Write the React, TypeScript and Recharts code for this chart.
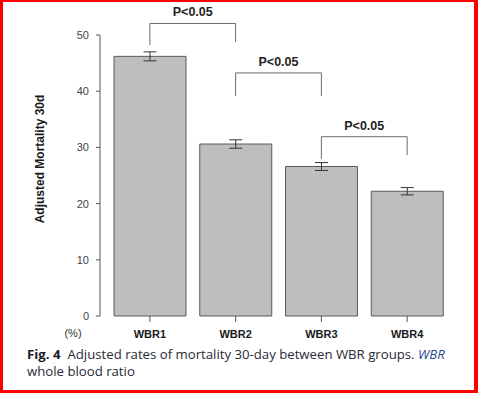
import React from 'react';
import { BarChart, Bar, XAxis, YAxis, ErrorBar, ReferenceLine } from 'recharts';

const categories = ['WBR1', 'WBR2', 'WBR3', 'WBR4'];
const mortality = [46.2, 30.6, 26.6, 22.2];
const errors = [0.8, 0.75, 0.7, 0.65];
const yTicks = [0, 10, 20, 30, 40, 50];

const bracketFrom = ['WBR1', 'WBR2', 'WBR3'];
const bracketTo = ['WBR2', 'WBR3', 'WBR4'];
const bracketTop = [52.05, 43.25, 31.9];
const bracketLeftEnd = [48.2, 39.15, 27.95];
const bracketRightEnd = [48.75, 39.15, 28.65];
const bracketLabels = ['P<0.05', 'P<0.05', 'P<0.05'];

const data = categories.map((c, i) => ({ name: c, value: mortality[i], err: errors[i] }));

const AXIS_FONT = 'Liberation Sans, Arial, sans-serif';
const CAPTION_FONT = 'Open Sans, sans-serif';

export default function App() {
  const brackets: React.ReactNode[] = [];
  bracketFrom.forEach((from, i) => {
    const to = bracketTo[i];
    brackets.push(
      <ReferenceLine
        key={`h${i}`}
        segment={[{ x: from, y: bracketTop[i] }, { x: to, y: bracketTop[i] }]}
        stroke="#6a6a6a"
        strokeWidth={1}
        ifOverflow="visible"
        label={{
          value: bracketLabels[i],
          position: 'top',
          offset: 7,
          fontSize: 12.5,
          fontWeight: 'bold',
          fill: '#222',
          fontFamily: AXIS_FONT,
        }}
      />
    );
    brackets.push(
      <ReferenceLine
        key={`l${i}`}
        segment={[{ x: from, y: bracketTop[i] }, { x: from, y: bracketLeftEnd[i] }]}
        stroke="#6a6a6a"
        strokeWidth={1}
        ifOverflow="visible"
      />
    );
    brackets.push(
      <ReferenceLine
        key={`r${i}`}
        segment={[{ x: to, y: bracketTop[i] }, { x: to, y: bracketRightEnd[i] }]}
        stroke="#6a6a6a"
        strokeWidth={1}
        ifOverflow="visible"
      />
    );
  });

  return (
    <div style={{ position: 'absolute', left: 0, top: 0, width: 478, height: 393, background: '#fff' }}>
      <BarChart
        width={478}
        height={393}
        data={data}
        margin={{ top: 35, right: 28, bottom: 47, left: 0 }}
      >
        <XAxis
          dataKey="name"
          axisLine={false}
          tickLine={{ stroke: '#555' }}
          tickSize={6}
          tickMargin={8}
          height={30}
          padding={{ left: 7, right: 0 }}
          tick={{ fontSize: 11, fontWeight: 'bold', fill: '#1a1a1a', fontFamily: AXIS_FONT }}
        />
        <YAxis
          width={100}
          domain={[0, 50]}
          ticks={yTicks}
          axisLine={{ stroke: '#555' }}
          tickLine={{ stroke: '#555' }}
          tickSize={4}
          tickMargin={7}
          tick={{ fontSize: 11, fill: '#444', fontFamily: AXIS_FONT }}
        />
        <Bar dataKey="value" fill="#bebebe" stroke="#5a5a5a" strokeWidth={1} barSize={72} isAnimationActive={false}>
          <ErrorBar dataKey="err" width={6.5} stroke="#333" strokeWidth={1} direction="y" />
        </Bar>
        {brackets}
      </BarChart>
      <svg
        width={478}
        height={393}
        style={{ position: 'absolute', left: 0, top: 0, pointerEvents: 'none' }}
      >
        <text
          x={44}
          y={159}
          transform="rotate(-90 44 159)"
          textAnchor="middle"
          fontSize={12}
          fontWeight="bold"
          fill="#1a1a1a"
          fontFamily={AXIS_FONT}
        >
          Adjusted Mortality 30d
        </text>
        <text x={73} y={337} textAnchor="middle" fontSize={11} fill="#333" fontFamily={AXIS_FONT}>
          (%)
        </text>
        <text x={27} y={359} fontSize={13.2} fontFamily={CAPTION_FONT} fill="#2a2a35">
          <tspan fontWeight="bold" fill="#1c1c28">Fig. 4</tspan>
          <tspan dx={7}>Adjusted rates of mortality 30-day between WBR groups. </tspan>
          <tspan fontStyle="italic" fill="#2b4a8c">WBR</tspan>
        </text>
        <text x={27} y={376} fontSize={13.2} fontFamily={CAPTION_FONT} fill="#2a2a35">
          whole blood ratio
        </text>
      </svg>
      <div
        style={{
          position: 'absolute',
          left: 0,
          top: 0,
          width: 478,
          height: 393,
          boxSizing: 'border-box',
          borderStyle: 'solid',
          borderColor: '#ff0000',
          borderWidth: '2px 4px 3px 3px',
          pointerEvents: 'none',
        }}
      />
    </div>
  );
}
